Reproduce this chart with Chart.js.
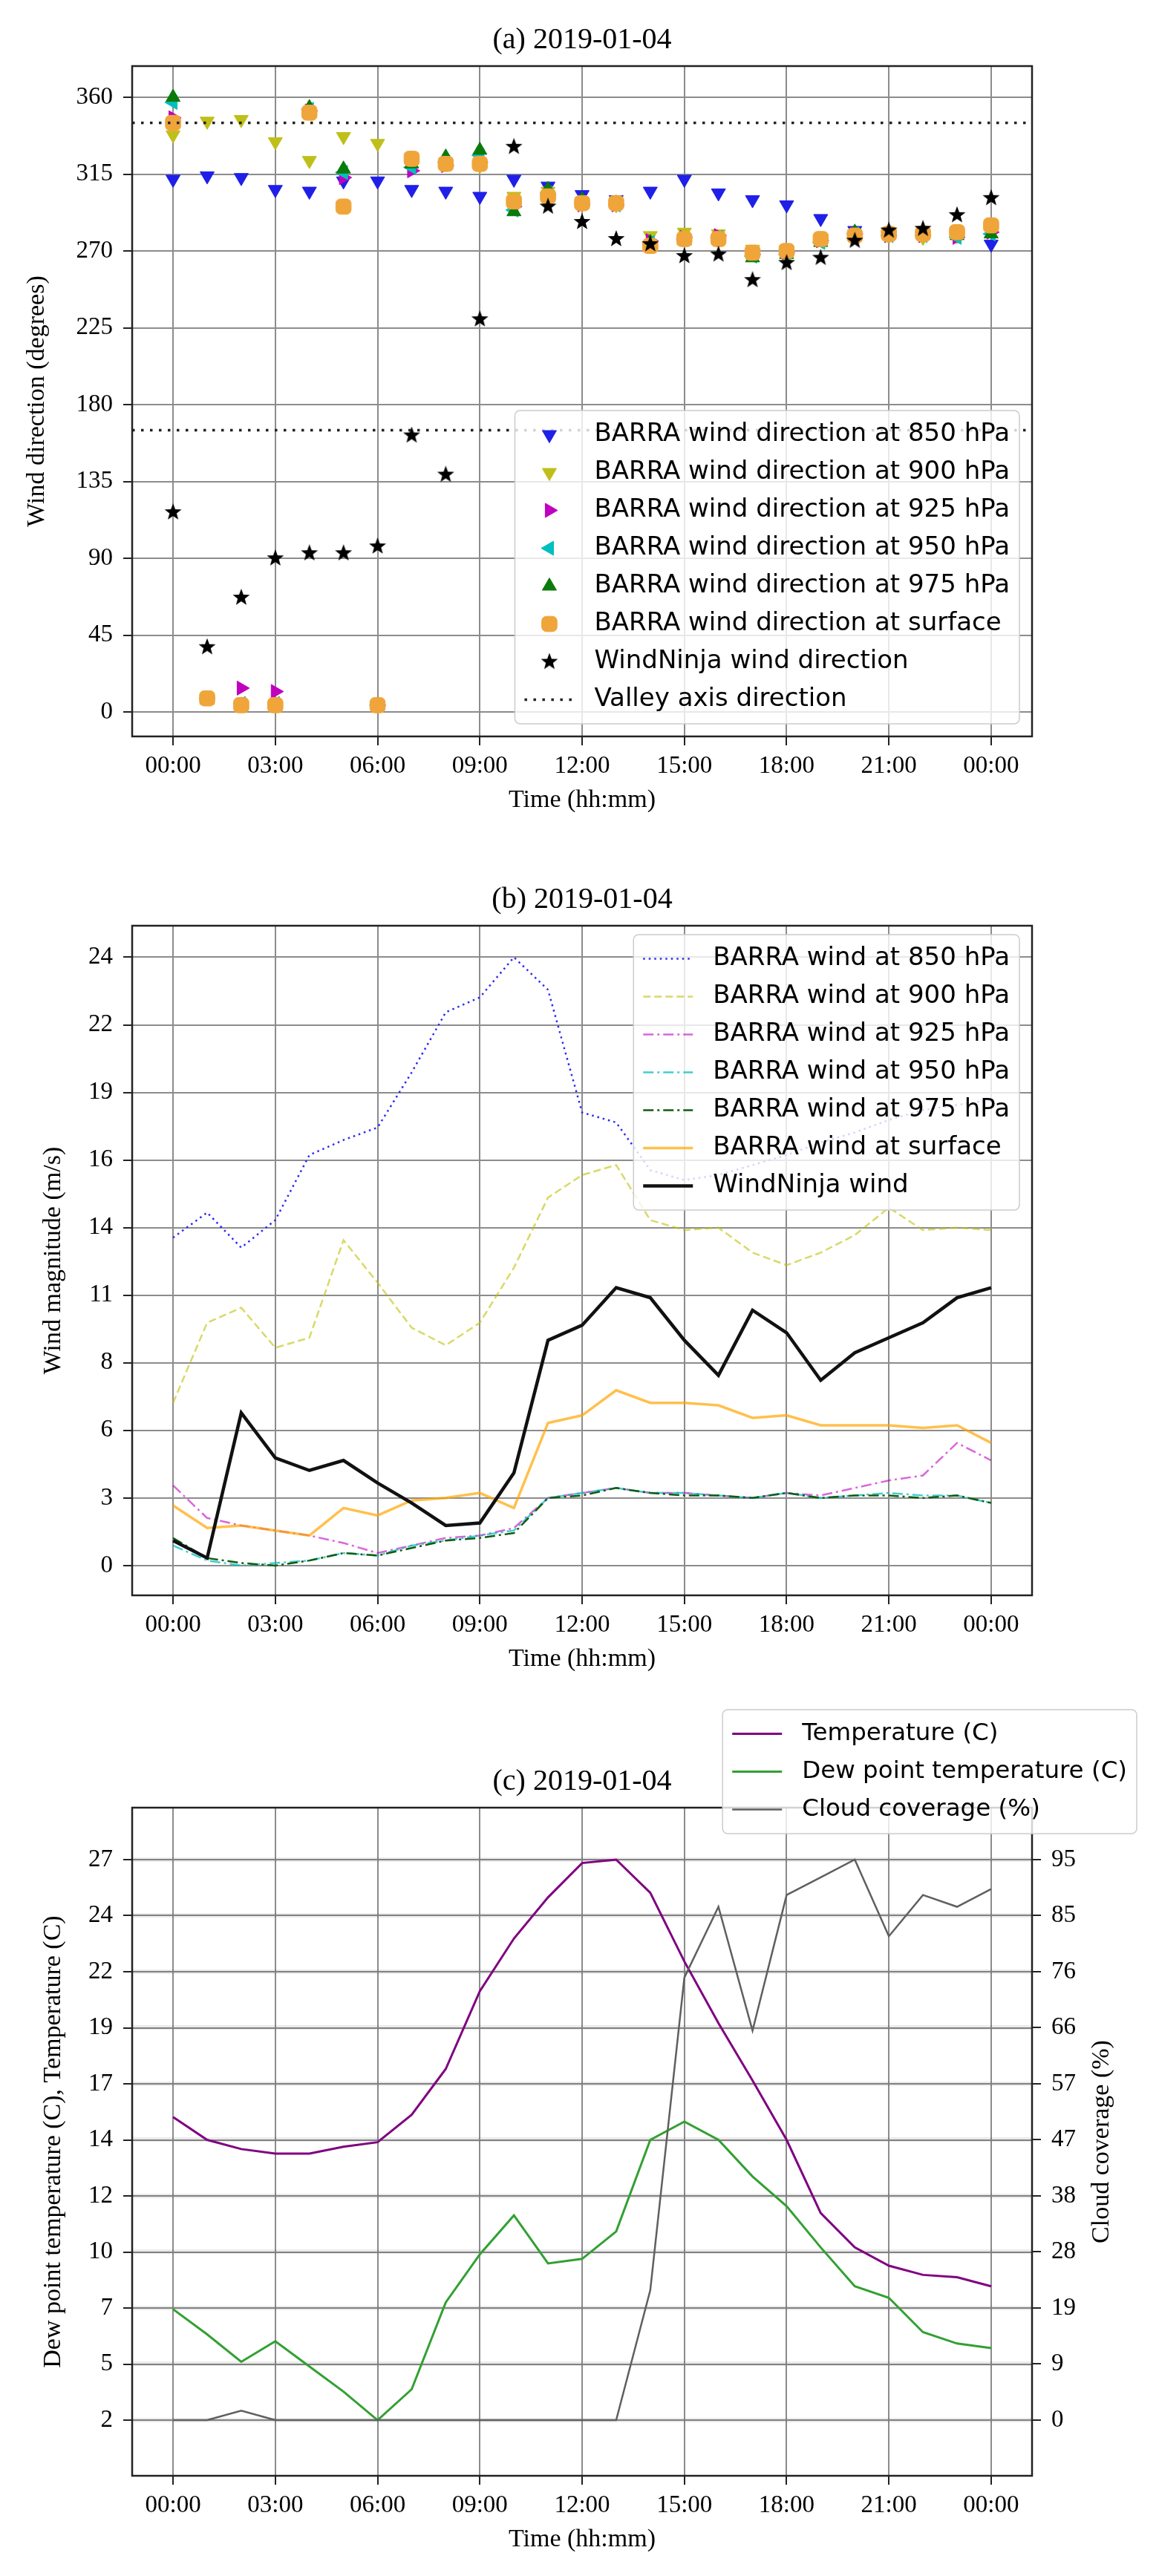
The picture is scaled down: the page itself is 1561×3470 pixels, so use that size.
<!DOCTYPE html>
<html>
<head>
<meta charset="utf-8">
<title>Wind and temperature, 2019-01-04</title>
<script src="https://cdn.jsdelivr.net/npm/chart.js@4.4.1/dist/chart.umd.min.js"></script>
<style>
  body { margin: 0; background: #fff; }
  #wrap { position: relative; width: 1561px; height: 3470px; background: #fff; }
  #wrap canvas { position: absolute; left: 0; }
</style>
</head>
<body>
<div id="wrap">
  <canvas id="dirChart" width="1561" height="1110" style="top:0px"></canvas>
  <canvas id="speedChart" width="1561" height="1150" style="top:1110px"></canvas>
  <canvas id="tempChart" width="1561" height="1210" style="top:2260px"></canvas>
</div>
<script>
// hourly samples, 00:00 to 00:00 next day
let hours = [0, 1, 2, 3, 4, 5, 6, 7, 8, 9, 10, 11, 12, 13, 14, 15, 16, 17, 18, 19, 20, 21, 22, 23, 24];
let xTicks = [0, 3, 6, 9, 12, 15, 18, 21, 24];
let xTickLabels = ['00:00', '03:00', '06:00', '09:00', '12:00', '15:00', '18:00', '21:00', '00:00'];

// (a) wind direction (degrees)
let dirTicks = [0, 45, 90, 135, 180, 225, 270, 315, 360];
let dirTickLabels = ['0', '45', '90', '135', '180', '225', '270', '315', '360'];
let dir850 = [312, 314, 313, 306, 305, 311, 311, 306, 305, 302, 312, 308, 303, 300, 305, 312, 304, 300, 297, 289, 282, 279, 279, 280, 274];
let dir900 = [338, 346, 347, 334, 323, 337, 333, 325, 322, 320, 302, 305, 299, 297, 279, 281, 280, 271, 271, 277, 280, 279, 278, 279, 283];
let dir925 = [348, 8, 14, 12, 352, 313, 4, 317, 320, 322, 296, 303, 297, 297, 276, 278, 279, 268, 269, 276, 280, 279, 279, 278, 281];
let dir950 = [357, 8, 5, 5, 353, 316, 4, 319, 322, 326, 294, 304, 298, 297, 275, 277, 278, 267, 268, 275, 280, 279, 279, 278, 280];
let dir975 = [360, 7, 4, 4, 354, 318, 4, 321, 325, 329, 293, 306, 300, 298, 275, 276, 277, 266, 268, 275, 281, 280, 280, 279, 280];
let dirSurface = [345, 8, 4, 4, 351, 296, 4, 324, 321, 321, 299, 302, 298, 298, 273, 277, 277, 269, 270, 277, 279, 280, 280, 281, 285];
let dirNinja = [117, 38, 67, 90, 93, 93, 97, 162, 139, 230, 331, 296, 287, 277, 274, 267, 268, 253, 263, 266, 276, 282, 283, 291, 301];
let valleyAxis = [345, 165];

// (b) wind magnitude (m/s)
let speedTicks = [0.6, 3.3, 6.0, 8.7, 11.4, 14.1, 16.8, 19.5, 22.2, 24.9];
let speedTickLabels = ['0', '3', '6', '8', '11', '14', '16', '19', '22', '24'];
let speed850 = [13.7, 14.7, 13.3, 14.4, 17.0, 17.6, 18.1, 20.3, 22.7, 23.3, 24.9, 23.6, 18.7, 18.3, 16.4, 16.0, 16.2, 16.6, 17.0, 17.5, 17.9, 18.4, 18.8, 19.0, 19.2];
let speed900 = [7.1, 10.3, 10.9, 9.3, 9.7, 13.6, 11.9, 10.1, 9.4, 10.3, 12.5, 15.3, 16.2, 16.6, 14.4, 14.0, 14.1, 13.1, 12.6, 13.1, 13.8, 14.9, 14.0, 14.1, 14.0];
let speed925 = [3.8, 2.5, 2.2, 2.0, 1.8, 1.5, 1.1, 1.4, 1.7, 1.8, 2.1, 3.3, 3.5, 3.7, 3.5, 3.5, 3.4, 3.3, 3.5, 3.4, 3.7, 4.0, 4.2, 5.5, 4.8];
let speed950 = [1.4, 0.8, 0.6, 0.7, 0.8, 1.1, 1.0, 1.4, 1.6, 1.8, 2.0, 3.3, 3.5, 3.7, 3.5, 3.5, 3.4, 3.3, 3.5, 3.3, 3.4, 3.5, 3.4, 3.4, 3.1];
let speed975 = [1.7, 0.9, 0.7, 0.6, 0.8, 1.1, 1.0, 1.3, 1.6, 1.7, 1.9, 3.3, 3.4, 3.7, 3.5, 3.4, 3.4, 3.3, 3.5, 3.3, 3.4, 3.4, 3.3, 3.4, 3.1];
let speedSurface = [3.0, 2.1, 2.2, 2.0, 1.8, 2.9, 2.6, 3.2, 3.3, 3.5, 2.9, 6.3, 6.6, 7.6, 7.1, 7.1, 7.0, 6.5, 6.6, 6.2, 6.2, 6.2, 6.1, 6.2, 5.5];
let speedNinja = [1.6, 0.9, 6.7, 4.9, 4.4, 4.8, 3.9, 3.1, 2.2, 2.3, 4.3, 9.6, 10.2, 11.7, 11.3, 9.6, 8.2, 10.8, 9.9, 8.0, 9.1, 9.7, 10.3, 11.3, 11.7];

// (c) temperature (C) and cloud coverage (%)
let tempTicks = [2.65, 5.1, 7.55, 10.0, 12.45, 14.9, 17.35, 19.8, 22.25, 24.7, 27.15];
let tempTickLabels = ['2', '5', '7', '10', '12', '14', '17', '19', '22', '24', '27'];
let cloudTicks = [0, 9.5, 19, 28.5, 38, 47.5, 57, 66.5, 76, 85.5, 95];
let cloudTickLabels = ['0', '9', '19', '28', '38', '47', '57', '66', '76', '85', '95'];
let temperature = [15.9, 14.9, 14.5, 14.3, 14.3, 14.6, 14.8, 16.0, 18.0, 21.4, 23.7, 25.5, 27.0, 27.15, 25.7, 22.7, 20.0, 17.5, 14.9, 11.7, 10.2, 9.4, 9.0, 8.9, 8.5];
let dewPoint = [7.5, 6.4, 5.2, 6.1, 5.0, 3.9, 2.65, 4.0, 7.8, 9.9, 11.6, 9.5, 9.7, 10.9, 14.9, 15.7, 14.9, 13.3, 12.0, 10.2, 8.5, 8.0, 6.5, 6.0, 5.8];
let cloudCover = [0, 0, 1.6, 0, 0, 0, 0, 0, 0, 0, 0, 0, 0, 0, 22, 75, 87, 66, 89, 92, 95, 82, 89, 87, 90];

let xMin = -1.2, xMax = 25.2;
let gridColor = '#8c8c8c';
let serifFamily = '"Liberation Serif", "DejaVu Serif", serif';

function serif(size) {
  return { family: serifFamily, size: size, weight: 'normal', lineHeight: 1.2 };
}

function points(values) {
  return hours.map((h, i) => ({ x: h, y: values[i] }));
}

// filled star like matplotlib's '*'
function starImage(size, color) {
  let c = document.createElement('canvas');
  c.width = size;
  c.height = size;
  let g = c.getContext('2d');
  let r = size / 2;
  g.beginPath();
  for (let i = 0; i < 10; i++) {
    let rad = i % 2 ? r * 0.42 : r;
    let a = -Math.PI / 2 + i * Math.PI / 5;
    g.lineTo(r + rad * Math.cos(a), r + rad * Math.sin(a));
  }
  g.closePath();
  g.fillStyle = color;
  g.fill();
  return c;
}

function markerSet(label, values, color, style, rotation, radius) {
  return {
    label: label,
    data: points(values),
    showLine: false,
    pointStyle: style,
    pointRotation: rotation,
    pointRadius: radius,
    pointBackgroundColor: color,
    pointBorderColor: color,
    pointBorderWidth: 1
  };
}

function lineSet(label, values, color, width, dash, axis) {
  return {
    label: label,
    data: points(values),
    showLine: true,
    borderColor: color,
    borderWidth: width,
    borderDash: dash,
    pointRadius: 0,
    tension: 0,
    yAxisID: axis || 'y'
  };
}

// later series drawn on top, like the plotting order
function stackOrder(sets) {
  sets.forEach((d, i) => { d.order = sets.length - i; });
  return sets;
}

// axes frame (all four spines)
let framePlugin = {
  id: 'frame',
  afterDatasetsDraw(chart) {
    let a = chart.chartArea;
    let ctx = chart.ctx;
    ctx.save();
    ctx.strokeStyle = '#222';
    ctx.lineWidth = 2.5;
    ctx.strokeRect(a.left, a.top, a.right - a.left, a.bottom - a.top);
    ctx.restore();
  }
};

// right-hand axis label reading bottom to top
let sideTitlePlugin = {
  id: 'sideTitle',
  afterDraw(chart, args, o) {
    if (!o.text) return;
    let a = chart.chartArea;
    let ctx = chart.ctx;
    ctx.save();
    ctx.translate(a.right + o.dx, (a.top + a.bottom) / 2);
    ctx.rotate(-Math.PI / 2);
    ctx.font = o.size + 'px ' + serifFamily;
    ctx.fillStyle = '#000';
    ctx.textAlign = 'center';
    ctx.textBaseline = 'middle';
    ctx.fillText(o.text, 0, 0);
    ctx.restore();
  }
};

// matplotlib-like boxed legend
let boxLegendPlugin = {
  id: 'boxLegend',
  afterDraw(chart, args, o) {
    if (!o.show) return;
    let ctx = chart.ctx;
    let a = chart.chartArea;
    let sets = chart.data.datasets;
    ctx.save();
    ctx.font = o.size + 'px "DejaVu Sans", Verdana, sans-serif';
    let textW = 0;
    sets.forEach(d => { textW = Math.max(textW, ctx.measureText(d.label).width); });
    let w = 2 * o.pad + o.handle + o.gap + textW;
    let h = sets.length * o.rowH + 14;
    let x0 = a.right + o.dx - w;
    let y0 = o.from === 'bottom' ? a.bottom + o.dy - h : a.top + o.dy;
    ctx.beginPath();
    ctx.roundRect(x0, y0, w, h, 7);
    ctx.fillStyle = 'rgba(255,255,255,0.8)';
    ctx.fill();
    ctx.strokeStyle = '#cccccc';
    ctx.lineWidth = 1.5;
    ctx.stroke();
    sets.forEach((d, i) => {
      let cy = y0 + 7 + o.rowH * (i + 0.5);
      let hx = x0 + o.pad;
      if (d.pointRadius > 0) {
        ctx.fillStyle = d.pointBackgroundColor;
        ctx.strokeStyle = d.pointBorderColor;
        ctx.lineWidth = d.pointBorderWidth;
        ctx.setLineDash([]);
        Chart.helpers.drawPoint(ctx, {
          pointStyle: d.pointStyle,
          rotation: d.pointRotation || 0,
          radius: d.pointRadius,
          borderWidth: d.pointBorderWidth
        }, hx + o.handle / 2, cy);
      } else {
        ctx.strokeStyle = d.borderColor;
        ctx.lineWidth = d.borderWidth;
        ctx.setLineDash(d.borderDash || []);
        ctx.beginPath();
        ctx.moveTo(hx, cy);
        ctx.lineTo(hx + o.handle, cy);
        ctx.stroke();
        ctx.setLineDash([]);
      }
      ctx.fillStyle = '#000';
      ctx.textAlign = 'left';
      ctx.textBaseline = 'middle';
      ctx.fillText(d.label, hx + o.handle + o.gap, cy);
    });
    ctx.restore();
  }
};

function timeAxis(box) {
  return {
    type: 'linear',
    min: xMin,
    max: xMax,
    afterBuildTicks: s => { s.ticks = xTicks.map(v => ({ value: v })); },
    afterFit: s => { s.height = box.height - box.bottom; },
    ticks: {
      autoSkip: false,
      maxRotation: 0,
      padding: 9,
      color: '#000',
      font: serif(33),
      callback: (v, i) => xTickLabels[i]
    },
    grid: { color: gridColor, lineWidth: 2, tickLength: 12, tickColor: '#222', tickWidth: 2 },
    border: { display: false },
    title: {
      display: true,
      text: 'Time (hh:mm)',
      color: '#000',
      font: serif(34),
      padding: { top: 0, bottom: box.height - box.bottom - 86 - 20.4 }
    }
  };
}

function valueAxis(box, opts) {
  return {
    type: 'linear',
    position: opts.position || 'left',
    min: opts.min,
    max: opts.max,
    afterBuildTicks: s => { s.ticks = opts.ticks.map(v => ({ value: v })); },
    afterFit: s => { s.width = opts.width; },
    ticks: {
      autoSkip: false,
      padding: 14,
      color: '#000',
      font: serif(33),
      callback: (v, i) => opts.labels[i]
    },
    grid: {
      color: opts.gridColor || gridColor,
      lineWidth: opts.gridWidth || 2,
      tickLength: 12,
      tickColor: '#222',
      tickWidth: 2
    },
    border: { display: false },
    title: {
      display: !!opts.title,
      text: opts.title || '',
      color: '#000',
      font: serif(34),
      padding: { top: opts.titleX - 20.4, bottom: 0 }
    }
  };
}

function baseOptions(box, title, scales, legend, side) {
  return {
    responsive: false,
    devicePixelRatio: 1,
    animation: false,
    events: [],
    layout: { padding: { left: 0, top: 0, bottom: 0, right: box.padRight } },
    scales: scales,
    plugins: {
      legend: { display: false },
      tooltip: { enabled: false },
      title: {
        display: true,
        text: title,
        fullSize: false,
        color: '#000',
        font: { family: serifFamily, size: 40, weight: 'normal', lineHeight: 1.2 },
        padding: { top: box.top - 59, bottom: 11 }
      },
      boxLegend: legend,
      sideTitle: side || {}
    }
  };
}

// ---------- (a) wind direction ----------
let boxA = { height: 1110, top: 89, bottom: 992, left: 178, right: 1390, padRight: 1561 - 1390 };
let valleyPoints = [
  { x: xMin, y: valleyAxis[0] }, { x: xMax, y: valleyAxis[0] }, { x: xMax, y: null },
  { x: xMin, y: valleyAxis[1] }, { x: xMax, y: valleyAxis[1] }
];
let star = starImage(24, '#000');

new Chart(document.getElementById('dirChart'), {
  type: 'scatter',
  data: {
    datasets: stackOrder([
      markerSet('BARRA wind direction at 850 hPa', dir850, '#1f1fe8', 'triangle', 180, 11),
      markerSet('BARRA wind direction at 900 hPa', dir900, '#bfbf1a', 'triangle', 180, 11),
      markerSet('BARRA wind direction at 925 hPa', dir925, '#bf00bf', 'triangle', 90, 11),
      markerSet('BARRA wind direction at 950 hPa', dir950, '#00bfbf', 'triangle', 270, 11),
      markerSet('BARRA wind direction at 975 hPa', dir975, '#0a7a0a', 'triangle', 0, 11),
      markerSet('BARRA wind direction at surface', dirSurface, '#f0a53a', 'rectRounded', 0, 12),
      markerSet('WindNinja wind direction', dirNinja, '#000', star, 0, 12),
      {
        type: 'line',
        label: 'Valley axis direction',
        data: valleyPoints,
        showLine: true,
        spanGaps: false,
        borderColor: '#222',
        borderWidth: 3.5,
        borderDash: [3.5, 8.5],
        pointRadius: 0
      }
    ])
  },
  options: baseOptions(boxA, '(a) 2019-01-04', {
    x: timeAxis(boxA),
    y: valueAxis(boxA, {
      min: -14.3, max: 378.3, ticks: dirTicks, labels: dirTickLabels,
      width: boxA.left, title: 'Wind direction (degrees)', titleX: 50
    })
  }, { show: true, size: 34, pad: 13, handle: 67, gap: 27, rowH: 51, dx: -17, dy: -17, from: 'bottom' }),
  plugins: [framePlugin, sideTitlePlugin, boxLegendPlugin]
});

// ---------- (b) wind magnitude ----------
let boxB = { height: 1150, top: 137, bottom: 1039, left: 178, right: 1390, padRight: 1561 - 1390 };

new Chart(document.getElementById('speedChart'), {
  type: 'line',
  data: {
    datasets: stackOrder([
      lineSet('BARRA wind at 850 hPa', speed850, '#2b2bf0', 2.5, [2.5, 5]),
      lineSet('BARRA wind at 900 hPa', speed900, 'rgba(191,191,0,0.6)', 2.5, [10, 5]),
      lineSet('BARRA wind at 925 hPa', speed925, 'rgba(191,0,191,0.6)', 2.5, [14, 5, 3, 5]),
      lineSet('BARRA wind at 950 hPa', speed950, 'rgba(0,191,191,0.75)', 2.5, [14, 5, 3, 5]),
      lineSet('BARRA wind at 975 hPa', speed975, '#115c11', 2.5, [14, 5, 3, 5]),
      lineSet('BARRA wind at surface', speedSurface, 'rgba(255,165,0,0.7)', 3.5, []),
      lineSet('WindNinja wind', speedNinja, '#111', 4.5, [])
    ])
  },
  options: baseOptions(boxB, '(b) 2019-01-04', {
    x: timeAxis(boxB),
    y: valueAxis(boxB, {
      min: -0.59, max: 26.16, ticks: speedTicks, labels: speedTickLabels,
      width: boxB.left, title: 'Wind magnitude (m/s)', titleX: 72
    })
  }, { show: true, size: 34, pad: 13, handle: 67, gap: 27, rowH: 51, dx: -17, dy: 12, from: 'top' }),
  plugins: [framePlugin, sideTitlePlugin, boxLegendPlugin]
});

// ---------- (c) temperature, dew point, cloud ----------
let boxC = { height: 1210, top: 175, bottom: 1075, left: 178, right: 1390, padRight: 0 };

new Chart(document.getElementById('tempChart'), {
  type: 'line',
  data: {
    datasets: stackOrder([
      lineSet('Temperature (C)', temperature, '#800080', 3, []),
      lineSet('Dew point temperature (C)', dewPoint, '#32a032', 3, []),
      lineSet('Cloud coverage (%)', cloudCover, '#5f5f5f', 2.5, [], 'y2')
    ])
  },
  options: baseOptions(boxC, '(c) 2019-01-04', {
    x: timeAxis(boxC),
    y: valueAxis(boxC, {
      min: 0.22, max: 29.42, ticks: tempTicks, labels: tempTickLabels,
      width: boxC.left, title: 'Dew point temperature (C), Temperature (C)', titleX: 72
    }),
    y2: valueAxis(boxC, {
      position: 'right', min: -9.44, max: 103.8, ticks: cloudTicks, labels: cloudTickLabels,
      width: 1561 - boxC.right, gridColor: 'rgba(0,0,0,0.08)', gridWidth: 6
    })
  }, { show: true, size: 32.5, pad: 13, handle: 67, gap: 27, rowH: 51, dx: 141, dy: -132, from: 'top' },
  { text: 'Cloud coverage (%)', dx: 94, size: 34 }),
  plugins: [framePlugin, sideTitlePlugin, boxLegendPlugin]
});
</script>
</body>
</html>
